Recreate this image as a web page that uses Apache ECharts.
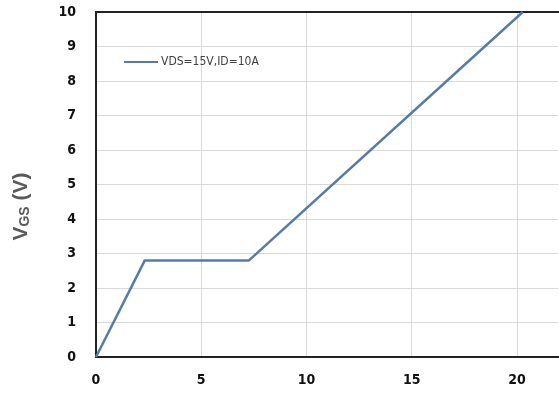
<!DOCTYPE html>
<html>
<head>
<meta charset="utf-8">
<script src="https://cdn.jsdelivr.net/npm/echarts@6/dist/echarts.min.js"></script>
<style>html,body{margin:0;padding:0;background:#fff;}#c{width:559px;height:400px;}</style>
</head>
<body>
<div id="c"></div>
<script>
var seriesName = 'VDS=15V,ID=10A';
var qg = [0, 2.32, 7.27, 20.28];
var vgs = [0, 2.8, 2.8, 10];
var xTicks = [0, 5, 10, 15, 20];
var yTicks = [0, 1, 2, 3, 4, 5, 6, 7, 8, 9, 10];

var chart = echarts.init(document.getElementById('c'), null, {renderer: 'canvas'});
var fontNarrow = '"Liberation Sans Narrow", "DejaVu Sans Condensed", Arial, sans-serif';
chart.setOption({
  animation: false,
  backgroundColor: '#fff',
  grid: {left: 96, right: 0, top: 12, bottom: 43, containLabel: false},
  legend: {
    show: true,
    left: 119, top: 51,
    itemWidth: 34, itemHeight: 14,
    itemGap: 4,
    icon: 'path://M0,6 L34,6 L34,8 L0,8 Z',
    textStyle: {fontFamily: fontNarrow, fontSize: 12, color: '#404040', padding: [0,0,0,-2]},
    data: [seriesName]
  },
  xAxis: [{
    type: 'value', min: 0, max: 22, interval: 5,
    axisLine: {show: true, lineStyle: {color: '#222', width: 2}},
    axisTick: {show: false},
    splitLine: {show: true, lineStyle: {color: '#d9d9d9', width: 1}},
    axisLabel: {
      showMaxLabel: false, margin: 16,
      fontFamily: fontNarrow, fontWeight: 'bold', fontSize: 14, color: '#111',
      formatter: function (v) { return xTicks.indexOf(v) >= 0 ? String(v) : ''; }
    }
  }, {
    type: 'value', position: 'top', min: 0, max: 22, interval: 5,
    axisLine: {show: true, onZero: false, lineStyle: {color: '#222', width: 2}},
    axisTick: {show: false}, axisLabel: {show: false}, splitLine: {show: false}
  }],
  yAxis: [{
    type: 'value', min: 0, max: 10, interval: 1,
    name: '{v|V}{s|GS}{v| (V)}',
    nameLocation: 'middle', nameGap: 64, nameRotate: 90,
    nameTextStyle: {
      padding: [0, 44, 0, 0],
      rich: {
        v: {fontFamily: 'Arial, "Liberation Sans", sans-serif', fontSize: 21, fontWeight: 'bold', color: '#595959'},
        s: {fontFamily: 'Arial, "Liberation Sans", sans-serif', fontSize: 14, fontWeight: 'bold', color: '#595959', verticalAlign: 'bottom', padding: [8,0,0,0]}
      }
    },
    axisLine: {show: true, lineStyle: {color: '#222', width: 2}},
    axisTick: {show: false},
    splitLine: {show: true, lineStyle: {color: '#d9d9d9', width: 1}},
    axisLabel: {
      margin: 20,
      fontFamily: fontNarrow, fontWeight: 'bold', fontSize: 14, color: '#111',
      formatter: function (v) { return yTicks.indexOf(v) >= 0 ? String(v) : ''; }
    }
  }, {
    type: 'value', position: 'right', min: 0, max: 10, interval: 1,
    axisLine: {show: true, onZero: false, lineStyle: {color: '#ffffff', width: 3}},
    axisTick: {show: false}, axisLabel: {show: false}, splitLine: {show: false}
  }],
  series: [{
    name: seriesName,
    type: 'line',
    xAxisIndex: 0, yAxisIndex: 0,
    data: qg.map(function (x, i) { return [x, vgs[i]]; }),
    showSymbol: false,
    symbol: 'none',
    lineStyle: {color: '#557ca6', width: 2.5},
    itemStyle: {color: '#557ca6'},
    clip: false
  }]
});
</script>
</body>
</html>
